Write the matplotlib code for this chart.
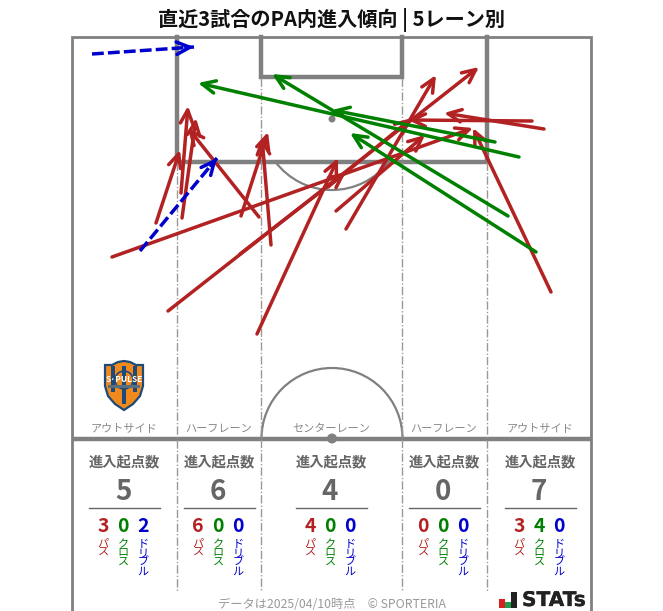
import matplotlib

matplotlib.use("Agg")
import matplotlib.patheffects as pe
import matplotlib.pyplot as plt
from matplotlib.patches import Arc, Circle, FancyArrowPatch, Polygon, Rectangle

plt.rcParams["font.family"] = ["Noto Sans CJK JP", "DejaVu Sans"]

# pitch is laid out in reference pixels: x0, y0, x1, y1 for every entry
pass_arrows = [
    (156, 223, 180, 150),
    (112, 257, 473, 128),
    (168, 311, 479, 67),
    (181, 193, 188, 106),
    (182, 218, 196, 118),
    (259, 217, 188, 128),
    (241, 216, 268, 132),
    (257, 334, 338, 158),
    (240, 254, 346, 172),
    (271, 245, 262, 137),
    (336, 211, 425, 135),
    (346, 229, 436, 75),
    (328, 187, 412, 118),
    (532, 121, 408, 120),
    (544, 129, 444, 113),
    (551, 292, 473, 128),
]
cross_arrows = [
    (495, 142, 332, 110),
    (519, 157, 198, 83),
    (508, 216, 272, 74),
    (536, 252, 350, 133),
]
dribble_arrows = [
    (92, 54, 194, 47),
    (140, 251, 217, 158),
]

lane_names = ["アウトサイド", "ハーフレーン", "センターレーン", "ハーフレーン", "アウトサイド"]
lane_centers = [124, 219, 331, 444, 540]
entry_totals = [5, 6, 4, 0, 7]
pass_counts = [3, 6, 4, 0, 3]
cross_counts = [0, 0, 0, 0, 4]
dribble_counts = [2, 0, 0, 0, 0]
kind_names = ["パス", "クロス", "ドリブル"]

RED = "#b22222"
GREEN = "#008000"
BLUE = "#0000cd"
LINE = "#808080"

fig = plt.figure(figsize=(6.63, 6.11), dpi=100)
ax = fig.add_axes([0, 0, 1, 1])
ax.set_xlim(0, 663)
ax.set_ylim(611, 0)
ax.axis("off")


def draw_pitch():
    # outer frame runs off the bottom of the picture
    ax.plot([72, 72, 591, 591], [611, 37, 37, 611], color=LINE, lw=2, solid_joinstyle="miter")
    # penalty and goal boxes
    ax.plot([176.5, 176.5, 487, 487], [37, 162, 162, 37], color=LINE, lw=3.2, solid_joinstyle="miter")
    ax.plot([261, 261, 402, 402], [37, 77, 77, 37], color=LINE, lw=3.2, solid_joinstyle="miter")
    ax.plot([72, 591], [438.5, 438.5], color=LINE, lw=3.2, solid_capstyle="butt")
    # lane separators
    for x, top in [(176.5, 162), (261, 78), (402, 78), (487, 162)]:
        ax.plot([x, x], [top, 591], color="#999999", lw=1, ls=(0, (6, 1.5, 1, 1.5)))
    ax.add_patch(Circle((332, 119), 3.5, color=LINE, lw=0))
    ax.add_patch(Circle((332, 438.5), 5, color=LINE, lw=0))
    ax.add_patch(Arc((332, 119), 142, 142, theta1=37, theta2=143, color=LINE, lw=1.6))
    ax.add_patch(Arc((332, 438.5), 141, 141, theta1=180, theta2=360, color=LINE, lw=1.6))


def draw_arrows(arrows, color, dashed=False):
    for x0, y0, x1, y1 in arrows:
        if dashed:
            ax.plot([x0, x1], [y0, y1], color=color, lw=2.5, ls=(0, (3.4, 1.2)), zorder=3)
            # head stays solid, only its last stretch of shaft is needed
            x0, y0 = x1 - (x1 - x0) * 0.08, y1 - (y1 - y0) * 0.08
        ax.add_patch(FancyArrowPatch(
            (x0, y0), (x1, y1),
            arrowstyle="->,head_length=0.6,head_width=0.28",
            mutation_scale=16,
            color=color,
            lw=2.5,
            shrinkA=0,
            shrinkB=0,
            capstyle="round",
            zorder=3,
        ))


def draw_crest():
    outline = [(105, 365), (112, 365), (118, 362), (124, 361), (130, 362), (136, 365), (143, 365),
               (143, 386), (140, 396), (133, 404), (124, 410), (115, 404), (108, 396), (105, 386)]
    ax.add_patch(Polygon(outline, closed=True, fc="#f08a1d", ec="#1d4a7a", lw=1.6, zorder=2))
    for x in (113, 124, 135):
        ax.add_patch(Rectangle((x - 1.8, 366), 3.6, 38 - abs(x - 124) * 1.1, color="#1d4a7a", lw=0, zorder=2))
    ax.add_patch(Circle((124, 380), 9, fc="none", ec="#1d4a7a", lw=1.2, zorder=2))
    ax.add_patch(Rectangle((108, 384.5), 32, 3.5, color="#5a6f80", lw=0, zorder=2))
    ax.text(124, 379, "S·PULSE", ha="center", va="center", fontsize=6, fontweight="bold",
            color="white", zorder=3)


def draw_lane_table():
    for i, cx in enumerate(lane_centers):
        ax.text(cx, 428.5, lane_names[i], ha="center", va="center", fontsize=8, color="#888888")
        ax.text(cx, 462, "進入起点数", ha="center", va="center", fontsize=10.3, fontweight="bold", color="#666666")
        ax.text(cx - 1, 491.5, str(entry_totals[i]), ha="center", va="center", fontsize=20, fontweight="bold", color="#666666")
        ax.plot([cx - 35, cx + 36], [508, 508], color="#666666", lw=1)
        counts = [pass_counts[i], cross_counts[i], dribble_counts[i]]
        for j, (count, color) in enumerate(zip(counts, [RED, GREEN, BLUE])):
            x = cx - 1 + (j - 1) * 20
            ax.text(x, 526.5, str(count), ha="center", va="center", fontsize=14, fontweight="bold", color=color)
            ax.text(x, 539, "\n".join(kind_names[j]), ha="center", va="top", fontsize=8,
                    color=color, linespacing=0.9)


def draw_footer():
    ax.text(331.5, 604, "データは2025/04/10時点　© SPORTERIA", ha="center", va="center", fontsize=8.8, color="#999999")
    ax.add_patch(Rectangle((499, 599), 5.5, 9, color="#d81e1e", lw=0))
    ax.add_patch(Rectangle((505, 602), 5.5, 6, color="#1a9e4b", lw=0))
    ax.add_patch(Rectangle((511, 592), 5.5, 16, color="#222222", lw=0))
    stats = ax.text(522, 600.5, "STATs", ha="left", va="center", fontsize=14.5, fontweight="bold",
                    family="DejaVu Sans", color="#222222")
    stats.set_path_effects([pe.withStroke(linewidth=0.2, foreground="#222222")])


draw_pitch()
draw_arrows(pass_arrows, RED)
draw_arrows(cross_arrows, GREEN)
draw_arrows(dribble_arrows, BLUE, dashed=True)
draw_crest()
draw_lane_table()
draw_footer()

ax.text(331, 19.5, "直近3試合のPA内進入傾向 | 5レーン別", ha="center", va="center",
        fontsize=14.5, fontweight="bold", color="#111111")

fig.savefig("out.png", dpi=100)
plt.close(fig)
